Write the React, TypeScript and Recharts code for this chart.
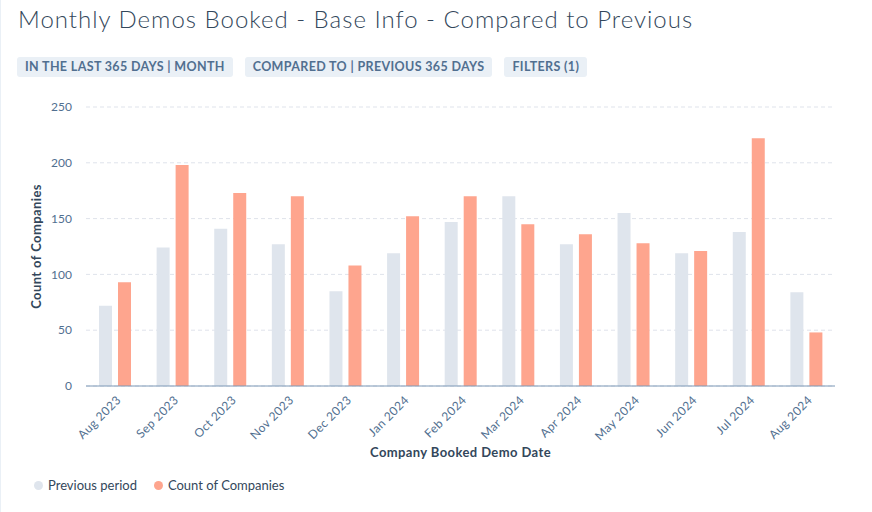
import React from "react";
import { BarChart, Bar, XAxis, YAxis, CartesianGrid, Label } from "recharts";

const months = ["Aug 2023","Sep 2023","Oct 2023","Nov 2023","Dec 2023","Jan 2024","Feb 2024","Mar 2024","Apr 2024","May 2024","Jun 2024","Jul 2024","Aug 2024"];
const previousPeriod = [72,124,141,127,85,119,147,170,127,155,119,138,84];
const countOfCompanies = [93,198,173,170,108,152,170,145,136,128,121,222,48];
const yTicks = [0,50,100,150,200,250];
const chips = ["IN THE LAST 365 DAYS | MONTH","COMPARED TO | PREVIOUS 365 DAYS","FILTERS (1)"];
const legendItems = ["Previous period","Count of Companies"];

const data = months.map((m, i) => ({ month: m, prev: previousPeriod[i], cur: countOfCompanies[i] }));

const FONT = "Lato, 'Open Sans', sans-serif";
const PREV = "#dfe5ed";
const CUR = "#fea58e";
const legendColors = [PREV, CUR];

const XTick = (props: any) => {
  const { x, y, payload } = props;
  return (
    <g transform={`translate(${x + 4},${y + 4})`}>
      <text transform="rotate(-45)" textAnchor="end" dy={4} fontSize={12} letterSpacing={0.4} fill="#516f90" fontFamily={FONT}>
        {payload.value}
      </text>
    </g>
  );
};

export default function App() {
  return (
    <div style={{ position: "absolute", left: 0, top: 0, width: 872, height: 512, background: "#fff", fontFamily: FONT, overflow: "hidden" }}>
      <div style={{ position: "absolute", left: 0, top: 0, width: 1, height: 512, background: "#eaf0f6" }} />
      <div style={{ position: "absolute", left: 18, top: 4, fontSize: 24, letterSpacing: 1, color: "#33475b", fontWeight: 300, whiteSpace: "nowrap" }}>
        Monthly Demos Booked - Base Info - Compared to Previous
      </div>
      <div style={{ position: "absolute", left: 17, top: 57, display: "flex" }}>
        {chips.map((c) => (
          <div key={c} style={{ background: "#eaf0f6", color: "#516f90", fontWeight: 700, fontSize: 12.5, letterSpacing: 0.35, padding: "0 8px", height: 20, lineHeight: "20px", marginRight: 12, borderRadius: 3, whiteSpace: "nowrap" }}>
            {c}
          </div>
        ))}
      </div>
      <div style={{ position: "absolute", left: 0, top: 0 }}>
        <BarChart width={872} height={512} data={data} margin={{ top: 107, right: 37, left: 0, bottom: 0 }} barGap={6} barSize={13}>
          <CartesianGrid vertical={false} stroke="#dfe3eb" strokeDasharray="4 3" />
          <XAxis dataKey="month" height={126} tickLine={false} axisLine={{ stroke: "#7c98b6" }} tick={<XTick />} interval={0}>
            <Label value="Company Booked Demo Date" position="insideBottom" offset={55} fill="#33475b" fontSize={13} letterSpacing={0.4} fontWeight={700} fontFamily={FONT} />
          </XAxis>
          <YAxis width={86} domain={[0, 250]} ticks={yTicks} tickLine={false} axisLine={false} tick={{ fontSize: 12, fill: "#516f90", fontFamily: FONT }} tickMargin={8}>
            <Label value="Count of Companies" angle={-90} position="insideLeft" offset={36} style={{ textAnchor: "middle" }} fill="#33475b" fontSize={13} letterSpacing={0.4} fontWeight={700} fontFamily={FONT} />
          </YAxis>
          <Bar dataKey="prev" name="Previous period" fill={PREV} isAnimationActive={false} />
          <Bar dataKey="cur" name="Count of Companies" fill={CUR} isAnimationActive={false} />
        </BarChart>
      </div>
      <div style={{ position: "absolute", left: 34, top: 477, display: "flex", fontSize: 13, color: "#33475b" }}>
        {legendItems.map((t, i) => (
          <div key={t} style={{ display: "flex", alignItems: "center", marginRight: 17 }}>
            <span style={{ width: 9, height: 9, borderRadius: 5, background: legendColors[i], display: "inline-block", marginRight: 5 }} />
            <span>{t}</span>
          </div>
        ))}
      </div>
    </div>
  );
}
